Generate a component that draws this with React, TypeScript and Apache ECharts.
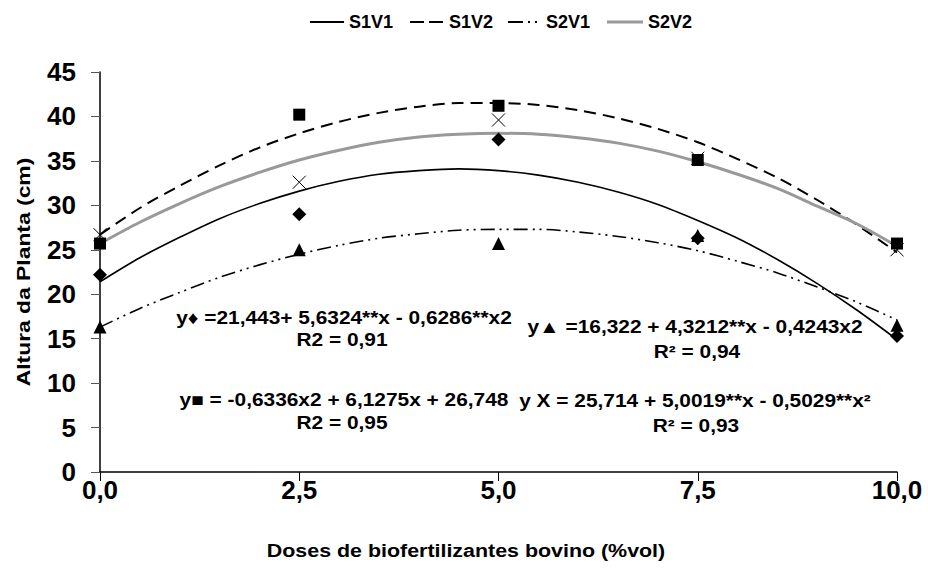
import React, { useEffect, useRef } from "react";
import * as echarts from "echarts";

// Observed data (markers)
const doses = [0, 2.5, 5, 7.5, 10];
const s1v1Obs = [22.2, 29.0, 37.4, 26.3, 15.3];
const s1v2Obs = [25.7, 40.2, 41.2, 35.1, 25.7];
const s2v1Obs = [16.3, 25.0, 25.7, 26.6, 16.5];
const s2v2Obs = [26.7, 32.6, 39.6, 35.3, 25.0];

// Trend curves
const curveX = [0, 0.5, 1, 1.5, 2, 2.5, 3, 3.5, 4, 4.5, 5, 5.5, 6, 6.5, 7, 7.5, 8, 8.5, 9, 9.5, 10];
const s1v1Curve = [21.4, 24.1, 26.4, 28.5, 30.2, 31.6, 32.7, 33.5, 33.9, 34.1, 33.9, 33.4, 32.6, 31.5, 30.1, 28.3, 26.3, 23.9, 21.2, 18.2, 14.9];
const s1v2Curve = [26.7, 29.7, 32.2, 34.5, 36.5, 38.1, 39.4, 40.4, 41.1, 41.5, 41.5, 41.3, 40.7, 39.8, 38.6, 37.1, 35.2, 33.1, 30.6, 27.8, 24.7];
const s2v1Curve = [16.3, 18.4, 20.2, 21.9, 23.3, 24.5, 25.5, 26.3, 26.8, 27.2, 27.3, 27.3, 27.0, 26.5, 25.8, 24.9, 23.7, 22.4, 20.8, 19.1, 17.1];
const s2v2Curve = [25.7, 28.1, 30.2, 32.1, 33.7, 35.1, 36.2, 37.1, 37.7, 38.0, 38.1, 38.0, 37.6, 37.0, 36.1, 34.9, 33.5, 31.9, 29.9, 27.9, 25.4];

const seriesNames = ["S1V1", "S1V2", "S2V1", "S2V2"];

const equations = [
  { text: "y\u2666 =21,443+ 5,6324**x - 0,6286**x2", x: 344, y: 318 },
  { text: "R2 = 0,91", x: 342, y: 340 },
  { text: "y\u25A0 = -0,6336x2 + 6,1275x + 26,748", x: 344, y: 400 },
  { text: "R2 = 0,95", x: 342, y: 423 },
  { text: "y\u25B2 =16,322 + 4,3212**x - 0,4243x2", x: 695, y: 327 },
  { text: "R\u00B2 = 0,94", x: 697, y: 352 },
  { text: "y X = 25,714 + 5,0019**x - 0,5029**x\u00B2", x: 695, y: 401 },
  { text: "R\u00B2 = 0,93", x: 696, y: 426 },
];

const FONT = "Arial, 'Liberation Sans', Helvetica, sans-serif";

function pairs(xs: number[], ys: number[]) {
  return xs.map((x, i) => [x, ys[i]]);
}

export default function App() {
  const ref = useRef<HTMLDivElement>(null);

  useEffect(() => {
    if (!ref.current) return;
    const chart = echarts.init(ref.current, undefined, { renderer: "svg" });

    const lineStyles: any[] = [
      { color: "#000", width: 1.6, type: "solid" },
      { color: "#000", width: 2, type: [12, 7] },
      { color: "#000", width: 1.6, type: [14, 5, 2, 5, 2, 5] },
      { color: "#999", width: 3, type: "solid" },
    ];
    const legendDash: any[] = [null, [14, 5], [15, 5, 2, 5, 2, 5], null];
    const legendX = [310, 410, 508, 607];
    const legendLen = [34, 34, 33, 36];

    const curves = [s1v1Curve, s1v2Curve, s2v1Curve, s2v2Curve];
    const obs = [s1v1Obs, s1v2Obs, s2v1Obs, s2v2Obs];
    const symbols: any[] = [
      { symbol: "diamond", size: [14, 14], style: { color: "#000", opacity: 1 } },
      { symbol: "rect", size: [12, 12], style: { color: "#000", opacity: 1 } },
      { symbol: "triangle", size: [13, 13], style: { color: "#000", opacity: 1 } },
      {
        symbol: "path://M0,0L10,10M10,0L0,10",
        size: [13, 13],
        style: { color: "none", borderColor: "#000", borderWidth: 1, opacity: 1 },
      },
    ];

    const series: any[] = [];
    seriesNames.forEach((name, i) => {
      series.push({
        name,
        type: "line",
        smooth: 0.3,
        symbol: "none",
        showSymbol: false,
        data: pairs(curveX, curves[i]),
        lineStyle: lineStyles[i],
        itemStyle: { color: lineStyles[i].color },
        z: 2,
        silent: true,
      });
    });
    seriesNames.forEach((name, i) => {
      series.push({
        name: name + " obs",
        type: "scatter",
        symbol: symbols[i].symbol,
        symbolSize: symbols[i].size,
        data: pairs(doses, obs[i]),
        itemStyle: symbols[i].style,
        z: 3,
        silent: true,
      });
    });

    const graphics: any[] = equations.map((e) => ({
      type: "text",
      x: e.x,
      y: e.y,
      scaleX: 1.16,
      style: {
        text: e.text,
        font: `bold 18px ${FONT}`,
        fill: "#000",
        align: "center",
        verticalAlign: "middle",
      },
    }));

    // legend (manual, to reproduce the line styles)
    seriesNames.forEach((name, i) => {
      const ls = lineStyles[i];
      graphics.push({
        type: "line",
        shape: { x1: legendX[i], y1: 22, x2: legendX[i] + legendLen[i], y2: 22 },
        style: {
          stroke: ls.color,
          lineWidth: i === 3 ? 3 : 1.8,
          lineDash: legendDash[i] || undefined,
        },
      });
      graphics.push({
        type: "text",
        x: legendX[i] + legendLen[i] + 5,
        y: 22,
        style: {
          text: name,
          font: `bold 18px ${FONT}`,
          fill: "#000",
          align: "left",
          verticalAlign: "middle",
        },
      });
    });

    graphics.push({
      type: "text",
      x: 466,
      y: 551,
      scaleX: 1.19,
      style: {
        text: "Doses de biofertilizantes bovino (%vol)",
        font: `bold 18px ${FONT}`,
        fill: "#000",
        align: "center",
        verticalAlign: "middle",
      },
    });
    graphics.push({
      type: "text",
      x: 23,
      y: 272,
      rotation: Math.PI / 2,
      scaleX: 1.27,
      style: {
        text: "Altura da Planta (cm)",
        font: `bold 18px ${FONT}`,
        fill: "#000",
        align: "center",
        verticalAlign: "middle",
      },
    });

    chart.setOption({
      animation: false,
      backgroundColor: "#fff",
      textStyle: { fontFamily: FONT },
      grid: { left: 100, right: 31, top: 72, bottom: 96, containLabel: false },
      xAxis: {
        type: "value",
        min: 0,
        max: 10,
        interval: 2.5,
        axisLine: { lineStyle: { color: "#000", width: 1.5 } },
        axisTick: { show: true, length: 9, lineStyle: { color: "#000" } },
        splitLine: { show: false },
        axisLabel: {
          margin: 5,
          fontSize: 26,
          fontWeight: "bold",
          color: "#000",
          fontFamily: FONT,
          formatter: (v: number) => v.toFixed(1).replace(".", ","),
        },
      },
      yAxis: {
        type: "value",
        min: 0,
        max: 45,
        interval: 5,
        axisLine: { show: true, lineStyle: { color: "#000", width: 1.5 } },
        axisTick: { show: true, length: 9, lineStyle: { color: "#555" } },
        splitLine: { show: false },
        axisLabel: {
          margin: 24,
          fontSize: 26,
          fontWeight: "bold",
          color: "#000",
          fontFamily: FONT,
        },
      },
      graphic: graphics,
      series,
    });

    return () => chart.dispose();
  }, []);

  return (
    <div
      ref={ref}
      style={{ position: "absolute", left: 0, top: 0, width: 928, height: 568 }}
    />
  );
}
